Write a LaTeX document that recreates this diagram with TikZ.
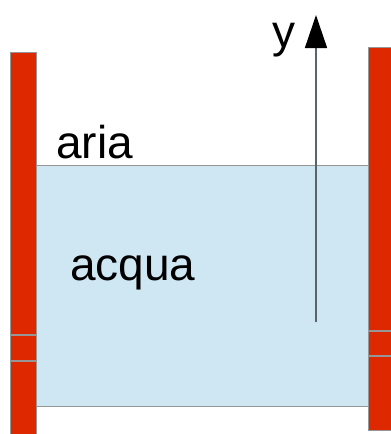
\documentclass[tikz,border=0pt]{standalone}
\usepackage{fontspec}
\setmainfont{Liberation Sans}
\usepackage{xcolor}
\usetikzlibrary{arrows.meta,positioning}
\definecolor{tankRed}{RGB}{221,40,0}
\definecolor{tankWater}{RGB}{207,230,243}
\definecolor{tankRule}{RGB}{150,150,150}
\definecolor{tankAxis}{RGB}{90,100,108}
\definecolor{tankInk}{RGB}{0,0,0}
\tikzset{
  tankwall/.style={fill=tankRed,draw=tankRule,line width=1pt},
  tankjoint/.style={draw=tankRule,line width=1.2pt},
  tankwater/.style={fill=tankWater,draw=tankRule,line width=1pt},
  tanklabel/.style={font=\fontsize{46}{52}\selectfont,text=tankInk,inner sep=0pt,anchor=base west},
  tankaxis/.style={-{Triangle[length=33pt,width=22pt,color=tankInk]},draw=tankAxis,line width=1.5pt},
}
\begin{document}
\begin{tikzpicture}[x=1pt,y=-1pt]
  \useasboundingbox (0,0) rectangle (391,434);

  % Water between the two walls.
  \draw[tankwater] (36,165) rectangle (368,406);

  % Left wall with its two joints.
  \draw[tankwall] (10,52) rectangle (36,440);
  \draw[tankjoint] (10,335) -- (36,335);
  \draw[tankjoint] (10,361) -- (36,361);

  % Right wall, cut by the picture edge.
  \draw[tankwall] (368,47) rectangle (400,430);
  \draw[tankjoint] (368,331) -- (400,331);
  \draw[tankjoint] (368,356) -- (400,356);

  % Vertical axis.
  \coordinate (ybase) at (316,322);
  \coordinate (ytip) at (316,15);
  \draw[tankaxis] (ybase) -- (ytip);
  \node[tanklabel] (ylab) at (272,47) {y};

  % Labels.
  \node[tanklabel] (aria) at (56,158) {aria};
  \node[tanklabel] (acqua) at (70,280) {acqua};
\end{tikzpicture}
\end{document}
